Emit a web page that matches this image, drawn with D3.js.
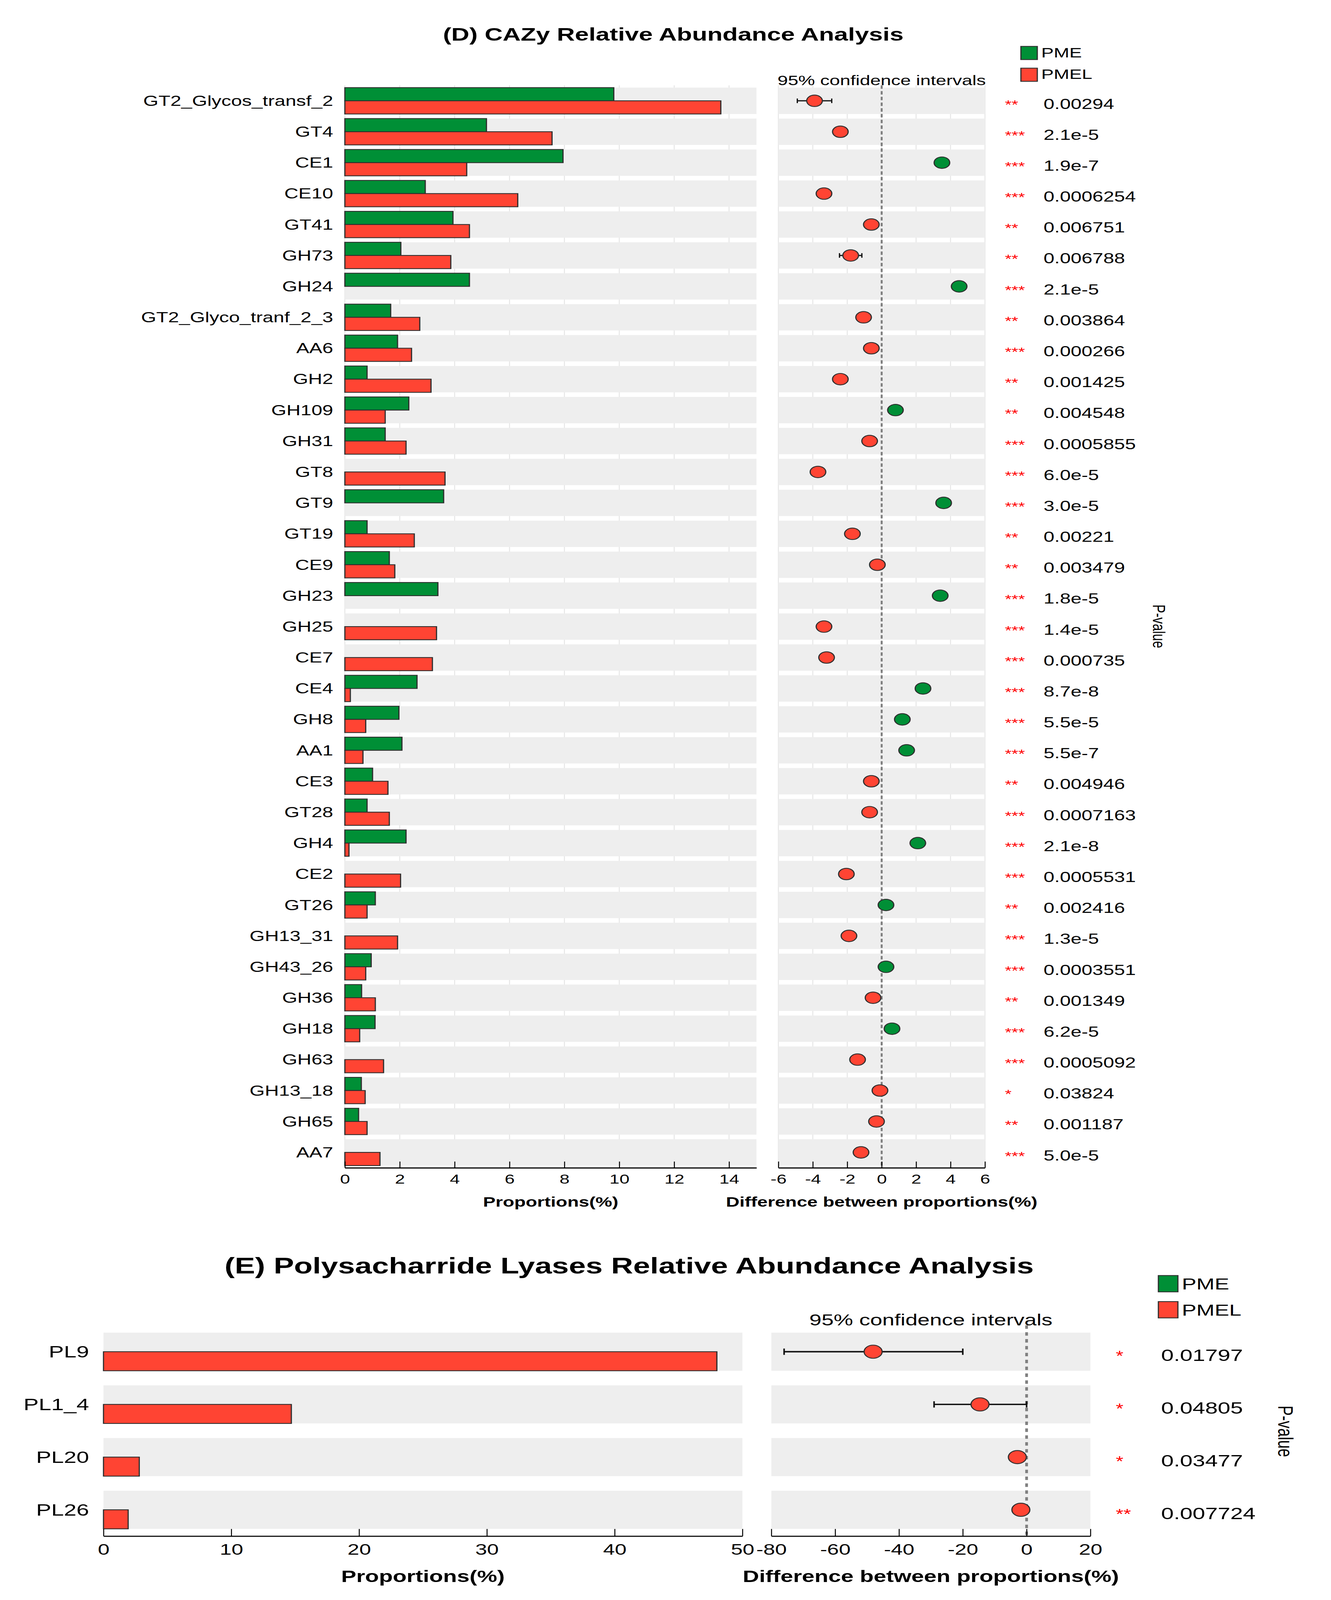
<!DOCTYPE html>
<html>
<head>
<meta charset="utf-8">
<script src="https://cdn.jsdelivr.net/npm/d3@7"></script>
<style>
  html, body { margin: 0; padding: 0; background: #fff; overflow: hidden; }
  svg { display: block; }
  text { font-family: "Liberation Sans", Arial, Helvetica, sans-serif; }
</style>
</head>
<body>
<svg id="chart"></svg>
<script>
// drawing space is the reference's 3408 x 5587; the svg is stretched to whatever viewport we get
var W = 3408, H = 5587;
var GREEN = '#008f36', RED = '#ff4433', EDGE = '#2e2e2e', BAND = '#eeeeee';

// ---- (D) CAZy data ----
var cazyNames = ['GT2_Glycos_transf_2', 'GT4', 'CE1', 'CE10', 'GT41', 'GH73', 'GH24', 'GT2_Glyco_tranf_2_3',
  'AA6', 'GH2', 'GH109', 'GH31', 'GT8', 'GT9', 'GT19', 'CE9', 'GH23', 'GH25', 'CE7', 'CE4', 'GH8', 'AA1',
  'CE3', 'GT28', 'GH4', 'CE2', 'GT26', 'GH13_31', 'GH43_26', 'GH36', 'GH18', 'GH63', 'GH13_18', 'GH65', 'AA7'];
var cazyPME = [9.8, 5.16, 7.95, 2.93, 3.94, 2.04, 4.54, 1.67,
  1.92, 0.81, 2.33, 1.47, 0, 3.6, 0.81, 1.62, 3.39, 0, 0, 2.63, 1.97, 2.08,
  1.01, 0.81, 2.23, 0, 1.11, 0, 0.96, 0.61, 1.1, 0, 0.6, 0.5, 0];
var cazyPMEL = [13.7, 7.55, 4.44, 6.3, 4.54, 3.86, 0, 2.73,
  2.43, 3.14, 1.47, 2.23, 3.65, 0, 2.53, 1.82, 0, 3.34, 3.19, 0.2, 0.76, 0.66,
  1.57, 1.62, 0.15, 2.03, 0.81, 1.92, 0.76, 1.11, 0.54, 1.41, 0.74, 0.81, 1.28];
var cazyDiff = [-3.9, -2.4, 3.5, -3.35, -0.6, -1.8, 4.5, -1.05,
  -0.6, -2.4, 0.8, -0.7, -3.7, 3.6, -1.7, -0.25, 3.4, -3.35, -3.2, 2.4, 1.2, 1.45,
  -0.6, -0.7, 2.1, -2.05, 0.25, -1.9, 0.25, -0.5, 0.6, -1.4, -0.1, -0.3, -1.2];
var cazyCiLow = [-4.9, -2.7, 3.2, -3.7, -0.8, -2.45, 4.2, -1.3,
  -0.8, -2.7, 0.6, -0.9, -4.0, 3.3, -1.9, -0.45, 3.1, -3.6, -3.45, 2.2, 1.0, 1.25,
  -0.8, -0.9, 1.9, -2.25, 0.05, -2.1, 0.05, -0.7, 0.4, -1.6, -0.3, -0.5, -1.4];
var cazyCiHigh = [-2.9, -2.1, 3.8, -3.0, -0.4, -1.15, 4.8, -0.8,
  -0.4, -2.1, 1.0, -0.5, -3.4, 3.9, -1.5, -0.05, 3.7, -3.1, -2.95, 2.6, 1.4, 1.65,
  -0.4, -0.5, 2.3, -1.85, 0.45, -1.7, 0.45, -0.3, 0.8, -1.2, 0.1, -0.1, -1.0];
var cazyP = ['0.00294', '2.1e-5', '1.9e-7', '0.0006254', '0.006751', '0.006788', '2.1e-5', '0.003864',
  '0.000266', '0.001425', '0.004548', '0.0005855', '6.0e-5', '3.0e-5', '0.00221', '0.003479', '1.8e-5',
  '1.4e-5', '0.000735', '8.7e-8', '5.5e-5', '5.5e-7', '0.004946', '0.0007163', '2.1e-8', '0.0005531',
  '0.002416', '1.3e-5', '0.0003551', '0.001349', '6.2e-5', '0.0005092', '0.03824', '0.001187', '5.0e-5'];
var cazyPropTicks = [0, 2, 4, 6, 8, 10, 12, 14];
var cazyDiffTicks = [-6, -4, -2, 0, 2, 4, 6];

// ---- (E) Polysaccharide lyase data ----
var plNames = ['PL9', 'PL1_4', 'PL20', 'PL26'];
var plPME = [0, 0, 0, 0];
var plPMEL = [48.0, 14.7, 2.8, 1.93];
var plDiff = [-48.1, -14.6, -2.9, -1.8];
var plCiLow = [-76, -29, -4.5, -3.0];
var plCiHigh = [-20, 0, -1.3, -0.6];
var plP = ['0.01797', '0.04805', '0.03477', '0.007724'];
var plPropTicks = [0, 10, 20, 30, 40, 50];
var plDiffTicks = [-80, -60, -40, -20, 0, 20];

var groups = ['PME', 'PMEL'];
var groupColor = d3.scaleOrdinal().domain(groups).range([GREEN, RED]);

// the headless viewport is shorter than the reference, so fit the whole figure into it
var svg = d3.select('#chart')
  .attr('width', window.innerWidth || W)
  .attr('height', window.innerHeight || H)
  .attr('viewBox', '0 0 ' + W + ' ' + H)
  .attr('preserveAspectRatio', 'none');
svg.append('rect').attr('width', W).attr('height', H).attr('fill', '#fff');

function stars(p) {
  var v = parseFloat(p);
  return v < 0.001 ? '***' : v < 0.01 ? '**' : v < 0.05 ? '*' : '';
}

// plain hyphen for negatives, like the original
function plainTick(d) { return String(d); }

function drawPanel(o) {
  var rows = o.names.map(function(n, i) {
    return { name: n, pme: o.pme[i], pmel: o.pmel[i], diff: o.diff[i], lo: o.lo[i], hi: o.hi[i], p: o.p[i] };
  });

  var y = d3.scaleBand().domain(o.names).range([o.top, o.bottom])
    .paddingInner(o.pad).paddingOuter(o.pad / 2);
  var xp = d3.scaleLinear().domain(o.propDomain).range([o.lx0, o.lx1]);
  var xd = d3.scaleLinear().domain(o.diffDomain).range([o.rx0, o.rx1]);
  var g = svg.append('g');

  // title
  g.append('text').attr('x', o.titleX).attr('y', o.titleY).attr('text-anchor', 'middle')
    .attr('font-size', o.titleSize).attr('font-weight', 'bold').text(o.title);

  // legend
  var leg = g.selectAll('.leg').data(groups).enter().append('g');
  leg.append('rect')
    .attr('x', o.legX).attr('y', function(d, i) { return o.legY[i]; })
    .attr('width', o.legW).attr('height', o.legH)
    .attr('fill', function(d) { return groupColor(d); })
    .attr('stroke', EDGE).attr('stroke-width', 3);
  leg.append('text')
    .attr('x', o.legX + o.legW + 10).attr('y', function(d, i) { return o.legY[i] + o.legH - 8; })
    .attr('font-size', o.legSize).text(function(d) { return d; });

  g.append('text').attr('x', (o.rx0 + o.rx1) / 2).attr('y', o.ciY).attr('text-anchor', 'middle')
    .attr('font-size', o.ciSize).text('95% confidence intervals');

  // grid lines
  if (o.grid) {
    g.selectAll('.gl').data(o.propTicks).enter().append('line')
      .attr('x1', xp).attr('x2', xp).attr('y1', o.top).attr('y2', o.bottom)
      .attr('stroke', '#e6e6e6').attr('stroke-width', 2.5);
    g.selectAll('.gr').data(o.diffTicks).enter().append('line')
      .attr('x1', xd).attr('x2', xd).attr('y1', o.top).attr('y2', o.bottom)
      .attr('stroke', '#e6e6e6').attr('stroke-width', 2.5);
  }

  // row bands
  g.selectAll('.bl').data(rows).enter().append('rect')
    .attr('x', o.lx0).attr('y', function(d) { return y(d.name); })
    .attr('width', o.lx1 - o.lx0).attr('height', y.bandwidth()).attr('fill', BAND);
  g.selectAll('.br').data(rows).enter().append('rect')
    .attr('x', o.rx0).attr('y', function(d) { return y(d.name); })
    .attr('width', o.rx1 - o.rx0).attr('height', y.bandwidth()).attr('fill', BAND);

  // bars
  var half = y.bandwidth() / 2;
  g.selectAll('.bg').data(rows).enter().append('rect')
    .attr('x', xp(0)).attr('y', function(d) { return y(d.name); })
    .attr('width', function(d) { return xp(d.pme) - xp(0); }).attr('height', half)
    .attr('fill', GREEN).attr('stroke', EDGE).attr('stroke-width', 3);
  g.selectAll('.bm').data(rows).enter().append('rect')
    .attr('x', xp(0)).attr('y', function(d) { return y(d.name) + half; })
    .attr('width', function(d) { return xp(d.pmel) - xp(0); }).attr('height', half)
    .attr('fill', RED).attr('stroke', EDGE).attr('stroke-width', 3);

  // zero line
  g.append('line').attr('x1', xd(0)).attr('x2', xd(0)).attr('y1', o.top).attr('y2', o.bottom)
    .attr('stroke', '#808080').attr('stroke-width', o.dashW).attr('stroke-dasharray', o.dash);

  // confidence intervals
  var cy = function(d) { return y(d.name) + half; };
  g.selectAll('.ci').data(rows).enter().append('line')
    .attr('x1', function(d) { return xd(d.lo); }).attr('x2', function(d) { return xd(d.hi); })
    .attr('y1', cy).attr('y2', cy).attr('stroke', '#111').attr('stroke-width', o.ciW);
  ['lo', 'hi'].forEach(function(k) {
    g.selectAll('.cap' + k).data(rows).enter().append('line')
      .attr('x1', function(d) { return xd(d[k]); }).attr('x2', function(d) { return xd(d[k]); })
      .attr('y1', function(d) { return cy(d) - o.capH / 2; }).attr('y2', function(d) { return cy(d) + o.capH / 2; })
      .attr('stroke', '#111').attr('stroke-width', o.ciW * 0.8);
  });

  // dots
  g.selectAll('.dot').data(rows).enter().append('circle')
    .attr('cx', function(d) { return xd(d.diff); }).attr('cy', cy).attr('r', o.dotR)
    .attr('fill', function(d) { return d.diff > 0 ? GREEN : RED; })
    .attr('stroke', EDGE).attr('stroke-width', 3);

  // row labels
  g.selectAll('.lab').data(rows).enter().append('text')
    .attr('x', o.labelX).attr('y', cy).attr('dy', '0.35em').attr('text-anchor', 'end')
    .attr('font-size', o.labelSize).text(function(d) { return d.name; });

  // stars + p-values
  g.selectAll('.st').data(rows).enter().append('text')
    .attr('x', o.starX).attr('y', function(d) { return cy(d) + o.pDy; })
    .attr('font-size', o.starSize).attr('fill', '#ff0000').text(function(d) { return stars(d.p); });
  g.selectAll('.pv').data(rows).enter().append('text')
    .attr('x', o.pX).attr('y', function(d) { return cy(d) + o.pDy; })
    .attr('font-size', o.pSize).text(function(d) { return d.p; });

  g.append('text').attr('transform', 'translate(' + o.pLabX + ',' + o.pLabY + ') rotate(90)')
    .attr('text-anchor', 'middle').attr('dy', '0.35em').attr('font-size', o.pLabSize).text('P-value');

  // axes
  function styleAxis(sel) {
    sel.select('.domain').attr('stroke', '#000').attr('stroke-width', 4);
    sel.selectAll('.tick line').attr('stroke', '#000').attr('stroke-width', 2.5);
    sel.selectAll('.tick text').attr('font-size', o.tickSize).attr('fill', '#000')
      .style('font-family', '"Liberation Sans", Arial, sans-serif');
  }
  g.append('g').attr('transform', 'translate(0,' + o.bottom + ')')
    .call(d3.axisBottom(xp).tickValues(o.propTicks).tickFormat(plainTick)
      .tickSize(-o.tickLen).tickSizeOuter(0).tickPadding(o.tickPad))
    .call(styleAxis);
  g.append('g').attr('transform', 'translate(0,' + o.bottom + ')')
    .call(d3.axisBottom(xd).tickValues(o.diffTicks).tickFormat(plainTick)
      .tickSize(-o.tickLen).tickSizeOuter(0).tickPadding(o.tickPad))
    .call(styleAxis);

  g.append('text').attr('x', (o.lx0 + o.lx1) / 2).attr('y', o.axTitleY).attr('text-anchor', 'middle')
    .attr('font-size', o.axTitleSize).attr('font-weight', 'bold').text('Proportions(%)');
  g.append('text').attr('x', (o.rx0 + o.rx1) / 2).attr('y', o.axTitleY).attr('text-anchor', 'middle')
    .attr('font-size', o.axTitleSize).attr('font-weight', 'bold').text('Difference between proportions(%)');
}

drawPanel({
  title: '(D) CAZy Relative Abundance Analysis', titleX: 1724, titleY: 142, titleSize: 64,
  names: cazyNames, pme: cazyPME, pmel: cazyPMEL, diff: cazyDiff, lo: cazyCiLow, hi: cazyCiHigh, p: cazyP,
  propTicks: cazyPropTicks, diffTicks: cazyDiffTicks, propDomain: [0, 15], diffDomain: [-6, 6],
  top: 298, bottom: 4078, pad: 0.148,
  lx0: 883, lx1: 1937, rx0: 1993, rx1: 2522, grid: true,
  legX: 2614, legY: [162, 238], legW: 42, legH: 46, legSize: 48,
  ciY: 297, ciSize: 48,
  dashW: 5, dash: '12,8', ciW: 4, capH: 16, dotR: 20,
  labelX: 853, labelSize: 50,
  starX: 2573, starSize: 44, pX: 2672, pSize: 50, pDy: 28,
  pLabX: 2968, pLabY: 2187, pLabSize: 45,
  tickLen: 22, tickPad: 22, tickSize: 46,
  axTitleY: 4213, axTitleSize: 48
});

drawPanel({
  title: '(E) Polysacharride Lyases Relative Abundance Analysis', titleX: 1611, titleY: 4447, titleSize: 78,
  names: plNames, pme: plPME, pmel: plPMEL, diff: plDiff, lo: plCiLow, hi: plCiHigh, p: plP,
  propTicks: plPropTicks, diffTicks: plDiffTicks, propDomain: [0, 50], diffDomain: [-80, 20],
  top: 4628, bottom: 5364, pad: 0.277,
  lx0: 265, lx1: 1901, rx0: 1975, rx1: 2792, grid: false,
  legX: 2966, legY: [4454, 4545], legW: 50, legH: 57, legSize: 56,
  ciY: 4628, ciSize: 56,
  dashW: 7, dash: '12,12', ciW: 5, capH: 22, dotR: 23,
  labelX: 228, labelSize: 58,
  starX: 2857, starSize: 50, pX: 2973, pSize: 58, pDy: 32,
  pLabX: 3292, pLabY: 4998, pLabSize: 53,
  tickLen: 25, tickPad: 27, tickSize: 54,
  axTitleY: 5524, axTitleSize: 58
});
</script>
</body>
</html>
